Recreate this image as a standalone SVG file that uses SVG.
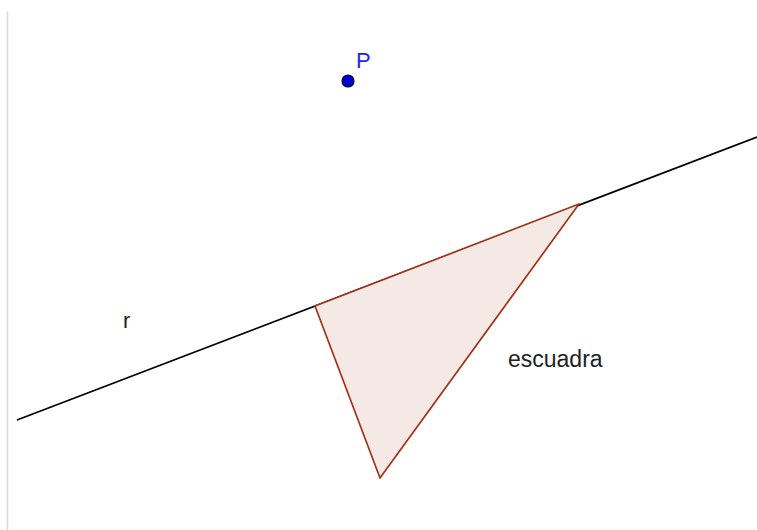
<svg xmlns="http://www.w3.org/2000/svg" width="757" height="530" viewBox="0 0 757 530">
<style>
text{font-family:"Liberation Sans",Arial,sans-serif;font-size:22px}
.lbl{fill:#222}
</style>
<rect width="757" height="530" fill="#fff"/>
<line x1="7.5" y1="11" x2="7.5" y2="530" stroke="#dcdcdc" stroke-width="1.5"/>
<g id="connectors">
<line id="r" x1="17" y1="420" x2="757" y2="137" stroke="#000" stroke-width="1.8"/>
</g>
<g id="escuadra">
<polygon points="315,306 579,204 380,478" fill="#f4e9e4" stroke="#a0341a" stroke-width="1.7" stroke-linejoin="round"/>
<text class="lbl" x="508" y="367" style="font-size:23px">escuadra</text>
</g>
<g id="label-r"><text class="lbl" x="123" y="328">r</text></g>
<g id="P">
<circle cx="348" cy="81" r="6" fill="#0000cc" stroke="#000033" stroke-width="1.2"/>
<text x="356" y="68" fill="#2222ff">P</text>
</g>
</svg>
